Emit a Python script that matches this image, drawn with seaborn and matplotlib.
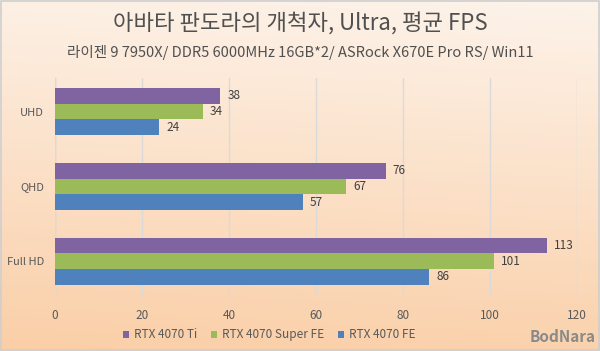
import numpy as np
import pandas as pd
import matplotlib
matplotlib.use("Agg")
import matplotlib.pyplot as plt
import seaborn as sns
from matplotlib.patches import Rectangle

categories = ["UHD", "QHD", "Full HD"]
series = ["RTX 4070 Ti", "RTX 4070 Super FE", "RTX 4070 FE"]
ti_vals = [38, 76, 113]
super_vals = [34, 67, 101]
fe_vals = [24, 57, 86]
x_ticks = [0, 20, 40, 60, 80, 100, 120]
colors = ["#8064a2", "#9bbb59", "#4f81bd"]

title = "아바타 판도라의 개척자, Ultra, 평균 FPS"
subtitle = "라이젠 9 7950X/ DDR5 6000MHz 16GB*2/ ASRock X670E Pro RS/ Win11"

rows = []
for s, vals in zip(series, [ti_vals, super_vals, fe_vals]):
    for c, v in zip(categories, vals):
        rows.append({"cat": c, "series": s, "fps": v})
df = pd.DataFrame(rows)

sns.set_theme(style="white")
plt.rcParams['font.family'] = ['Noto Sans CJK KR', 'DejaVu Sans']

fig = plt.figure(figsize=(6.0, 3.51), dpi=100)

# background gradient
bg = fig.add_axes([0, 0, 1, 1], zorder=-10)
h, w = 200, 300
yy = np.linspace(0, 1, h)[:, None]
xx = np.linspace(0, 1, w)[None, :]
top = np.array([253, 243, 234]) / 255.0
bot = np.array([250, 206, 166]) / 255.0
t = np.clip(yy * 0.9 + (1 - xx) * 0.08, 0, 1)
img = top[None, None, :] * (1 - t[..., None]) + bot[None, None, :] * t[..., None]
bg.imshow(img, aspect="auto", extent=[0, 1, 0, 1], origin="upper")
bg.set_xlim(0, 1); bg.set_ylim(0, 1)
bg.axis("off")
bg.add_patch(Rectangle((0.001, 0.002), 0.997, 0.995, fill=False, edgecolor="#cfcfcf", linewidth=1.2,
                       transform=bg.transAxes))

ax = fig.add_axes([0.0917, 0.16, 0.87, 0.618])
ax.patch.set_alpha(0)
sns.barplot(data=df, y="cat", x="fps", hue="series", order=categories, hue_order=series,
            palette=colors, orient="h", width=0.63, ax=ax, legend=True, saturation=1,
            linewidth=0)

for cont in ax.containers:
    ax.bar_label(cont, padding=5, fontsize=8.5, color="#404040")

ax.set_xlim(0, 120)
ax.set_ylim(2.45, -0.45)
ax.set_xticks(x_ticks)
ax.set_xticklabels([str(v) for v in x_ticks])
ax.set_xlabel("")
ax.set_ylabel("")
ax.grid(axis="x", color="#dadada", linewidth=1)
ax.set_axisbelow(True)
for sp in ax.spines.values():
    sp.set_visible(False)
ax.axvline(0, color="#d0d0d0", linewidth=1, zorder=0)
ax.tick_params(axis="x", length=0, pad=10, labelsize=8.5, labelcolor="#595959")
ax.tick_params(axis="y", length=0, pad=8, labelsize=8, labelcolor="#595959")

leg = ax.legend(loc="center", bbox_to_anchor=(0.41, -0.185), ncol=3, frameon=False,
                fontsize=8.5, handlelength=0.5, handleheight=0.5, handletextpad=0.4, columnspacing=1.2)
for txt in leg.get_texts():
    txt.set_color("#595959")

fig.text(0.5, 0.935, title, ha="center", va="center", fontsize=16, color="#505050")
fig.text(0.5, 0.85, subtitle, ha="center", va="center", fontsize=10.5, color="#505050")
fig.text(0.993, 0.04, "BodNara", ha="right", va="center", fontsize=11, fontweight="bold", color="#8a8a8a")

fig.savefig("out.png", dpi=100)
